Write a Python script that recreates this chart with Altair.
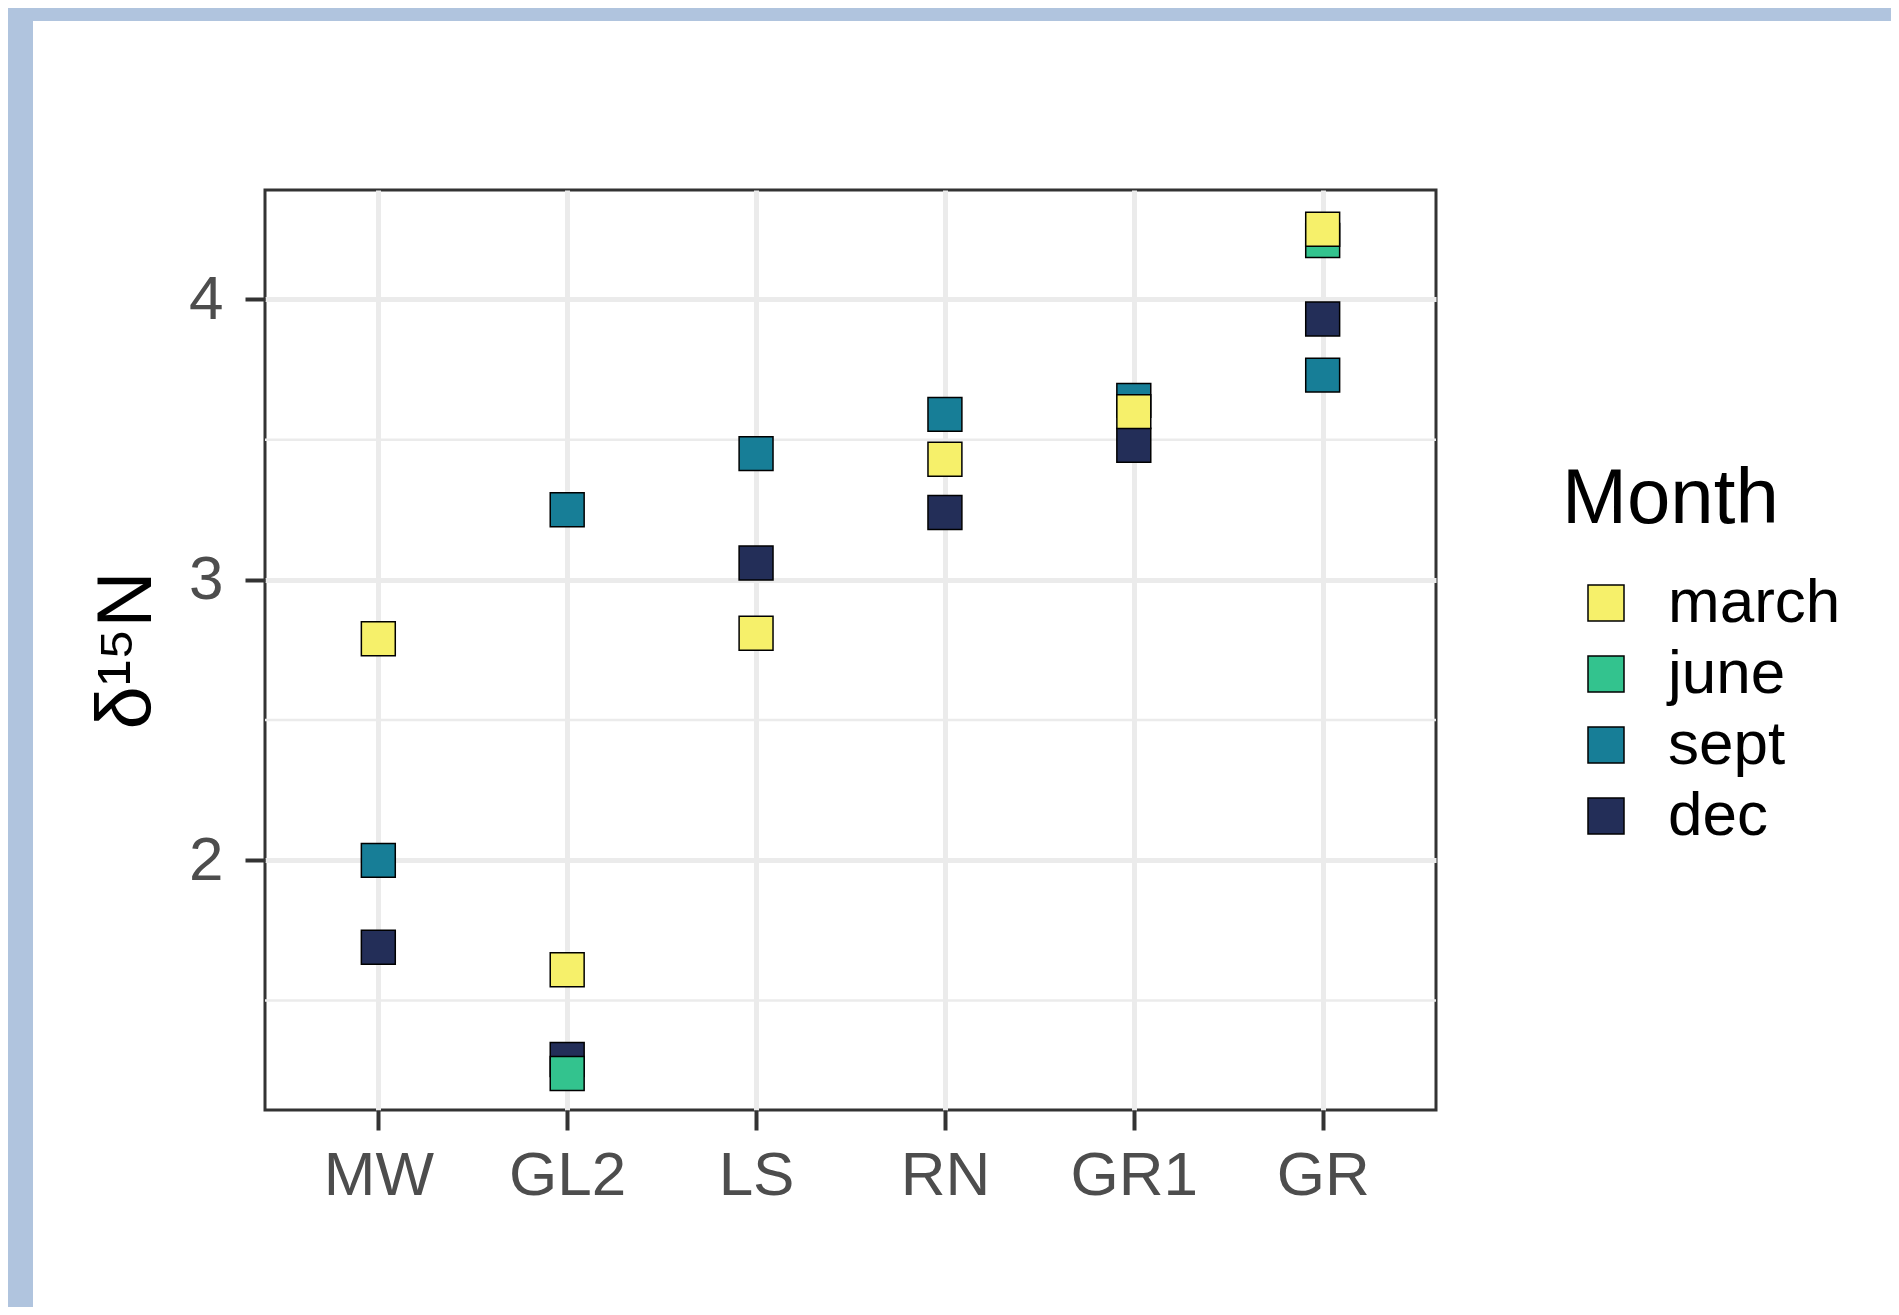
import altair as alt
import pandas as pd

# ---- data ----
sites = ["MW", "GL2", "LS", "RN", "GR1", "GR"]
months = ["march", "june", "sept", "dec"]
month_colors = ["#F6F06A", "#33C38E", "#177E97", "#232E58"]

pt_site = ["MW", "MW", "MW",
           "GL2", "GL2", "GL2", "GL2",
           "LS", "LS", "LS",
           "RN", "RN", "RN",
           "GR1", "GR1", "GR1",
           "GR", "GR", "GR", "GR"]
pt_month = ["march", "sept", "dec",
            "sept", "march", "dec", "june",
            "sept", "dec", "march",
            "sept", "march", "dec",
            "sept", "dec", "march",
            "june", "march", "dec", "sept"]
pt_d15n = [2.79, 2.00, 1.69,
           3.25, 1.61, 1.29, 1.24,
           3.45, 3.06, 2.81,
           3.59, 3.43, 3.24,
           3.64, 3.48, 3.60,
           4.21, 4.25, 3.93, 3.73]

y_breaks = [2, 3, 4]
minor_breaks = [1.5, 2.5, 3.5]
y_domain = [1.11, 4.39]

FONT = "Liberation Sans"

df = pd.DataFrame({"site": pt_site, "Month": pt_month, "d15N": pt_d15n})
minor_df = pd.DataFrame({"d15N": minor_breaks})

x_enc = alt.X(
    "site:N", sort=sites,
    scale=alt.Scale(type="point", padding=0.6),
    axis=alt.Axis(title=None, labelAngle=0, labelFont=FONT, labelFontSize=62,
                  labelColor="#4D4D4D", labelPadding=15, tickSize=20, tickWidth=4,
                  tickColor="#333333", domain=False, grid=True,
                  gridColor="#EBEBEB", gridWidth=5),
)
y_enc = alt.Y(
    "d15N:Q",
    scale=alt.Scale(domain=y_domain, nice=False, zero=False),
    axis=alt.Axis(values=y_breaks, format="d", title="δ¹⁵N",
                  titleFont=FONT, titleFontSize=78, titleFontWeight="normal",
                  titleColor="black", titlePadding=22,
                  labelFont=FONT, labelFontSize=62, labelColor="#4D4D4D",
                  labelPadding=22, tickSize=20, tickWidth=4, tickColor="#333333",
                  domain=False, grid=True, gridColor="#EBEBEB", gridWidth=5),
)

minor = alt.Chart(minor_df).mark_rule(color="#EBEBEB", strokeWidth=2.5).encode(y=y_enc)

points = alt.Chart(df).mark_square(
    size=1150, filled=True, stroke="black", strokeWidth=1.5, opacity=1
).encode(
    x=x_enc,
    y=y_enc,
    color=alt.Color(
        "Month:N",
        scale=alt.Scale(domain=months, range=month_colors),
        legend=alt.Legend(
            orient="none", legendX=1297, legendY=271, title="Month",
            titleFont=FONT, titleFontSize=78, titleFontWeight="normal",
            titleColor="black", titlePadding=33, titleLimit=0,
            labelFont=FONT, labelFontSize=62, labelColor="black", labelOffset=31,
            labelLimit=0,
            symbolType="square", symbolSize=1296, symbolStrokeColor="black",
            symbolStrokeWidth=1.5, symbolOffset=13, rowPadding=9,
            symbolOpacity=1,
        ),
    ),
)

frame_src = alt.Data(values=[{"k": 1}])
top_strip = alt.Chart(frame_src).mark_rect(color="#B0C4DE").encode(
    x=alt.value(-257), x2=alt.value(1626), y=alt.value(-182), y2=alt.value(-169)
)
left_strip = alt.Chart(frame_src).mark_rect(color="#B0C4DE").encode(
    x=alt.value(-257), x2=alt.value(-232), y=alt.value(-182), y2=alt.value(1117)
)

chart = alt.layer(top_strip, left_strip, minor, points).properties(
    width=1171, height=920,
    autosize=alt.AutoSizeParams(type="none"),
    padding={"left": 257, "top": 182, "right": 455, "bottom": 197},
).configure(background="white").configure_view(
    stroke="#333333", strokeWidth=3
)

chart.save("out.html", embed_options={"renderer": "svg", "actions": False})
